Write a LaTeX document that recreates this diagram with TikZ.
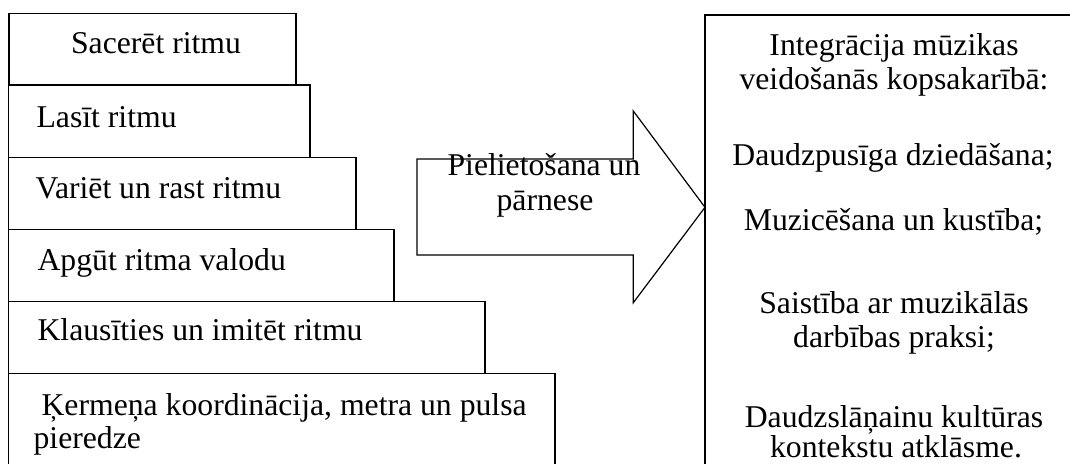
\documentclass[tikz,border=0pt]{standalone}
\usepackage{fontspec}
\setmainfont{Liberation Serif}
\begin{document}
\begin{tikzpicture}[x=1pt,y=-1pt,
  line width=1.2pt,
  stepbox/.style={draw=black,fill=white},
  txt/.style={anchor=base west,inner sep=0pt,font=\fontsize{31.7}{35}\selectfont},
  ctxt/.style={anchor=base,inner sep=0pt,font=\fontsize{31.7}{35}\selectfont}]
\useasboundingbox (0,0) rectangle (1070,463);
\clip (0,0) rectangle (1070,463);
\fill[white] (0,0) rectangle (1070,463);

% stacked steps, bottom to top
\draw[stepbox] (8.5,373.5) rectangle (555,490);
\draw[stepbox] (8.5,301.5) rectangle (485,373.5);
\draw[stepbox] (8.5,229.5) rectangle (394,301.5);
\draw[stepbox] (8.5,157.5) rectangle (356,229.5);
\draw[stepbox] (8.5,85) rectangle (310,157.5);
\draw[stepbox] (9,13.5) rectangle (296,85);

\node[ctxt] (s1) at (156,53) {Sacerēt ritmu};
\node[txt] (s2) at (36,127) {Lasīt ritmu};
\node[txt] (s3) at (35,198) {Variēt un rast ritmu};
\node[txt] (s4) at (37,270) {Apgūt ritma valodu};
\node[txt] (s5) at (37,340) {Klausīties un imitēt ritmu};
\node[txt] (s6a) at (41,415) {Ķermeņa koordinācija, metra un pulsa};
\node[txt] (s6b) at (33,448) {pieredze};

% block arrow
\draw[fill=white,line join=miter]
  (417,159) -- (633.3,159) -- (633.3,111) -- (705,207.3)
  -- (633.3,302.7) -- (633.3,255) -- (417,255) -- cycle;
\node[ctxt] (a1) at (544,175) {Pielietošana un};
\node[ctxt] (a2) at (545,210) {pārnese};

% result box
\draw[stepbox] (705,15) rectangle (1081,490);
\node[ctxt] (r1) at (894,55) {Integrācija mūzikas};
\node[ctxt] (r2) at (894,89) {veidošanās kopsakarībā:};
\node[ctxt] (r3) at (893,165) {Daudzpusīga dziedāšana;};
\node[ctxt] (r4) at (893.5,230) {Muzicēšana un kustība;};
\node[ctxt] (r5) at (894,313) {Saistība ar muzikālās};
\node[ctxt] (r6) at (894,347) {darbības praksi;};
\node[ctxt] (r7) at (894,427) {Daudzslāņainu kultūras};
\node[ctxt] (r8) at (896,457) {kontekstu atklāsme.};
\end{tikzpicture}
\end{document}
